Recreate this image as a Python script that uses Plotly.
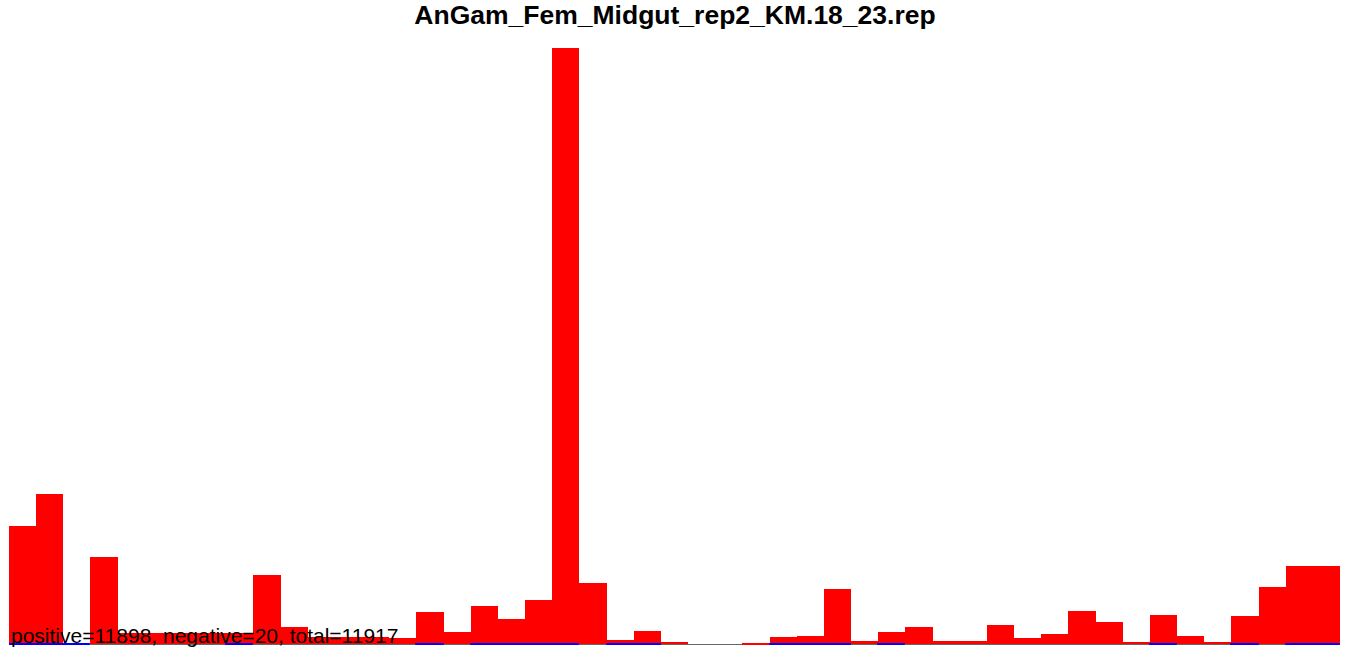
import plotly.graph_objects as go

title_text = "AnGam_Fem_Midgut_rep2_KM.18_23.rep"
summary_text = "positive=11898, negative=20, total=11917"

bins = list(range(49))
positive = [767, 975, 0, 566, 72, 72, 72, 72, 72, 449,
            111, 46, 46, 46, 39, 208, 78, 247, 163, 286,
            3874, 397, 26, 85, 13, 0, 0, 7, 46, 52,
            358, 20, 78, 111, 20, 20, 124, 39, 65, 215,
            143, 13, 189, 52, 13, 182, 371, 507, 507]
negative = [-1, -1, -1, 0, 0, 0, 0, 0, -1, 0,
            0, 0, 0, 0, 0, -1, 0, -1, -1, -1,
            -2, 0, -1, -1, 0, 0, 0, 0, -1, -1,
            -1, 0, -1, 0, 0, 0, 0, 0, 0, 0,
            0, 0, -1, 0, 0, -1, 0, -1, -1]

pos_plot = [v if v > 0 else None for v in positive]
neg_plot = [v if v < 0 else None for v in negative]

fig = go.Figure()
fig.add_trace(go.Bar(x=bins, y=pos_plot, marker=dict(color="red", line=dict(width=0)),
                     width=1.0, showlegend=False, hoverinfo="y"))
fig.add_trace(go.Bar(x=bins, y=neg_plot, marker=dict(color="blue", line=dict(color="blue", width=1)),
                     width=1.0, showlegend=False, hoverinfo="y"))

fig.update_layout(
    width=1350, height=656,
    barmode="overlay", bargap=0,
    paper_bgcolor="white", plot_bgcolor="white",
    margin=dict(l=9, r=10, t=48, b=11),
    title=dict(text="<b>" + title_text + "</b>", x=0.5, xanchor="center", y=0.978, yanchor="middle",
               font=dict(family="Liberation Sans, Arial", size=26.5, color="black")),
    xaxis=dict(range=[-0.5, 48.5], showgrid=False, showticklabels=False, zeroline=False,
               showline=False, ticks=""),
    yaxis=dict(range=[-4, 3874], showgrid=False, showticklabels=False, zeroline=True,
               zerolinecolor="#666666", zerolinewidth=1, showline=False, ticks=""),
    annotations=[dict(text=summary_text, xref="paper", yref="paper", x=0, y=0.016,
                      xanchor="left", yanchor="middle", showarrow=False,
                      font=dict(family="Liberation Sans, Arial", size=21, color="black"))],
)

fig.write_html("out.html", config={"displayModeBar": False},
               post_script="document.body.style.margin='0';document.body.style.overflow='hidden';")
